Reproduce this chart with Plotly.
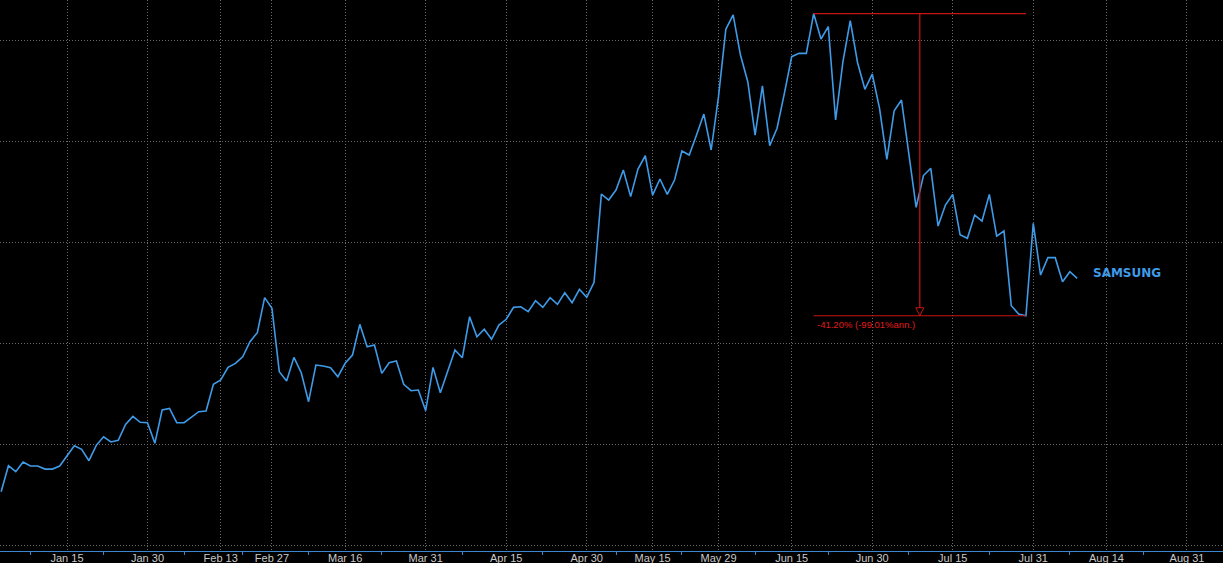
import pandas as pd
import plotly.graph_objects as go

# trading calendar: weekdays minus the days with no print in the series
closed_days = ["2015-02-18", "2015-02-19", "2015-02-20", "2015-03-03",
               "2015-05-01", "2015-05-05", "2015-05-25", "2015-06-04",
               "2015-07-22"]
dates = pd.bdate_range("2015-01-02", "2015-09-07", freq="C",
                       holidays=closed_days).strftime("%Y-%m-%d").tolist()

# daily close (arbitrary units)
close = [
    25.28, 27.85, 27.26, 28.22, 27.82, 27.82, 27.52, 27.52, 27.82, 28.84,
    29.83, 29.48, 28.35, 29.87, 30.72, 30.20, 30.37, 31.95, 32.74, 32.15,
    32.11, 30.07, 33.37, 33.53, 32.11, 32.11, 32.64, 33.20, 33.27, 35.91,
    36.34, 37.59, 37.99, 38.64, 40.13, 41.02, 44.49, 43.44, 37.16, 36.24,
    38.58, 37.06, 34.19, 37.82, 37.72, 37.55, 36.66, 37.99, 38.81, 41.85,
    39.63, 39.80, 37.00, 38.05, 38.22, 35.91, 35.28, 35.35, 33.30, 37.59,
    35.08, 37.10, 39.31, 38.54, 42.60, 40.62, 41.36, 40.37, 41.78, 42.35,
    43.53, 43.59, 43.10, 44.19, 43.53, 44.49, 43.83, 44.98, 43.99, 45.32,
    44.52, 46.01, 54.75, 54.16, 55.15, 57.13, 54.49, 57.23, 58.54, 54.65,
    56.24, 54.72, 56.14, 59.01, 58.61, 60.59, 62.67, 59.11, 64.39, 71.06,
    72.48, 68.51, 65.87, 60.59, 65.45, 59.54, 61.26, 64.72, 68.35, 68.68,
    68.68, 72.62, 70.10, 71.32, 62.08, 67.85, 71.91, 67.75, 65.12, 66.63,
    63.24, 58.19, 63.00, 64.06, 58.61, 53.44, 56.58, 57.30, 51.58, 53.66,
    54.72, 50.72, 50.37, 52.67, 52.08, 54.72, 50.59, 51.09, 43.69, 42.87,
    42.70, 51.85, 46.73, 48.45, 48.45, 46.07, 47.06, 46.41,
]

tick_dates = ["2015-01-15", "2015-01-30", "2015-02-13", "2015-02-27",
              "2015-03-16", "2015-03-31", "2015-04-15", "2015-04-30",
              "2015-05-15", "2015-05-29", "2015-06-15", "2015-06-30",
              "2015-07-15", "2015-07-31", "2015-08-14", "2015-08-31"]
tick_text = ["Jan 15", "Jan 30", "Feb 13", "Feb 27", "Mar 16", "Mar 31",
             "Apr 15", "Apr 30", "May 15", "May 29", "Jun 15", "Jun 30",
             "Jul 15", "Jul 31", "Aug 14", "Aug 31"]

series_name = "SAMSUNG"
drawdown_text = "-41.20% (-99.01%ann.)"

BLUE = "#3f9be8"
RED = "#c81414"
GRID = "#6a6a6a"

# minor ticks halfway between labelled dates
tick_idx = [dates.index(d) for d in tick_dates]
minor_idx = [tick_idx[0] // 2] + [(a + b) // 2 for a, b in zip(tick_idx, tick_idx[1:])]
minor_dates = [dates[i] for i in minor_idx]

# peak-to-trough drawdown
peak_i = close.index(max(close))
after = close[peak_i:]
trough_i = peak_i + after.index(min(after))
peak_v = close[peak_i]
trough_v = close[trough_i]
mid_i = (peak_i + trough_i) / 2

y_full = close + [None] * (len(dates) - len(close))

fig = go.Figure()
fig.add_trace(go.Scatter(
    x=dates, y=y_full, mode="lines",
    line=dict(color=BLUE, width=1.6),
    hoverinfo="skip", showlegend=False,
))

fig.add_shape(type="line", xref="x", yref="y", x0=peak_i, x1=trough_i,
              y0=peak_v, y1=peak_v, line=dict(color=RED, width=1.2))
fig.add_shape(type="line", xref="x", yref="y", x0=peak_i, x1=trough_i,
              y0=trough_v, y1=trough_v, line=dict(color=RED, width=1.2))
fig.add_shape(type="line", xref="x", yref="y", x0=mid_i, x1=mid_i,
              y0=peak_v, y1=trough_v, line=dict(color=RED, width=1.2))
# open arrow head sitting on the trough line
fig.add_shape(type="path", xref="x", yref="y",
              xsizemode="pixel", ysizemode="pixel",
              xanchor=mid_i, yanchor=trough_v,
              path="M -4,8 L 4,8 L 0,0 Z",
              fillcolor="black", line=dict(color=RED, width=1))

fig.add_annotation(x=peak_i, y=trough_v, xref="x", yref="y",
                   text=drawdown_text, showarrow=False,
                   xanchor="left", yanchor="top", xshift=1, yshift=-1,
                   font=dict(family="Liberation Sans, Arial, sans-serif",
                             size=9.5, color="#e01c1c"))

fig.add_annotation(x=len(close) - 1, y=close[-1], xref="x", yref="y",
                   text="<b>" + series_name + "</b>", showarrow=False,
                   xanchor="left", yanchor="middle", xshift=14, yshift=5,
                   font=dict(family="DejaVu Sans, Verdana, sans-serif",
                             size=12, color=BLUE))

fig.update_layout(
    width=1223, height=563,
    margin=dict(l=0, r=0, t=0, b=12),
    paper_bgcolor="black", plot_bgcolor="black",
    showlegend=False, hovermode=False,
    xaxis=dict(
        type="category",
        range=[-0.153, 166.92],
        automargin=False,
        tickmode="array", tickvals=tick_dates, ticktext=tick_text,
        showgrid=True, gridcolor=GRID, griddash="1px,2px", gridwidth=1,
        showline=True, linecolor="#3a86cf", linewidth=1,
        ticks="", zeroline=False,
        ticklabelstandoff=-3,
        tickfont=dict(family="Liberation Sans Narrow, Arial Narrow, Liberation Sans, sans-serif",
                      size=11, color="#c9c9c9"),
        minor=dict(tickmode="array", tickvals=minor_dates, ticks="outside",
                   ticklen=3, tickcolor="#3a86cf", showgrid=False),
    ),
    yaxis=dict(
        range=[19.41, 73.96],
        automargin=False,
        tickmode="linear", tick0=0, dtick=10,
        showticklabels=False,
        showgrid=True, gridcolor=GRID, griddash="1px,2px", gridwidth=1,
        zeroline=False, showline=False,
    ),
)

# the page body keeps its default 8px margin otherwise
fig.write_html("out.html", config={"displayModeBar": False},
               post_script="document.body.style.margin='0';")
